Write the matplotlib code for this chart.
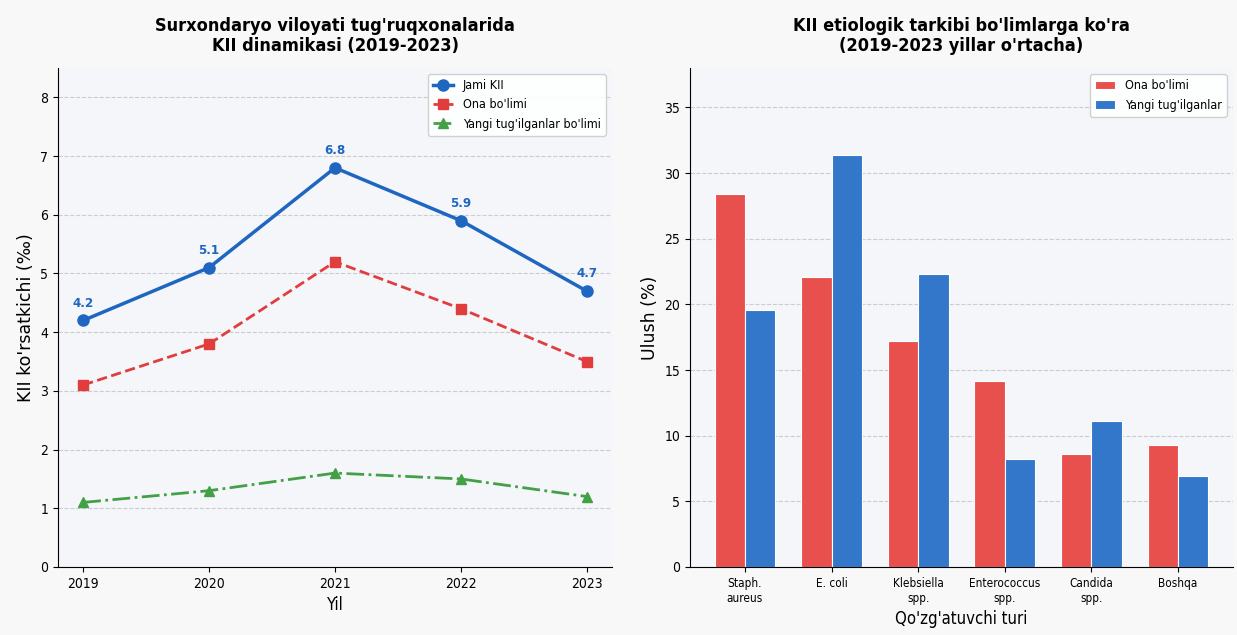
import matplotlib.pyplot as plt
import numpy as np

# chap grafik: KII dinamikasi
years = [2019, 2020, 2021, 2022, 2023]
jami_kii = [4.2, 5.1, 6.8, 5.9, 4.7]
ona_bolimi = [3.1, 3.8, 5.2, 4.4, 3.5]
yangi_tug = [1.1, 1.3, 1.6, 1.5, 1.2]

# o'ng grafik: etiologik tarkib
pathogens = ['Staph.\naureus', 'E. coli', 'Klebsiella\nspp.', 'Enterococcus\nspp.', 'Candida\nspp.', 'Boshqa']
ona_pct = [28.4, 22.1, 17.2, 14.2, 8.6, 9.3]
yangi_pct = [19.6, 31.4, 22.3, 8.2, 11.1, 6.9]

BLUE = '#1f66c1'
RED = '#e23d3d'
GREEN = '#43a047'
BAR_RED = '#e8504d'
BAR_BLUE = '#3277c9'
AX_BG = '#f4f6fa'

plt.rcParams['font.family'] = ['DejaVu Sans']
plt.rcParams['font.stretch'] = 'condensed'

fig = plt.figure(figsize=(12.37, 6.35), dpi=100, facecolor='#f8f8f8')
ax1 = fig.add_axes([58 / 1237, 68 / 635, 554 / 1237, 499 / 635])
ax2 = fig.add_axes([690 / 1237, 68 / 635, 543 / 1237, 499 / 635])

for ax in (ax1, ax2):
    ax.set_facecolor(AX_BG)
    ax.spines['top'].set_visible(False)
    ax.spines['right'].set_visible(False)
    ax.grid(axis='y', linestyle='--', alpha=0.6, color='#b0b0b0')
    ax.set_axisbelow(True)
    ax.tick_params(labelsize=10)

# --- chap ---
ax1.plot(years, jami_kii, '-o', color=BLUE, lw=2.5, ms=8, label='Jami KII')
ax1.plot(years, ona_bolimi, '--s', color=RED, lw=2, ms=7, label="Ona bo'limi")
ax1.plot(years, yangi_tug, '-.^', color=GREEN, lw=2, ms=7, label="Yangi tug'ilganlar bo'limi")
for x, y in zip(years, jami_kii):
    ax1.annotate(f'{y}', (x, y), textcoords='offset points', xytext=(0, 10),
                 ha='center', fontsize=9.5, fontweight='bold', color=BLUE)
ax1.set_ylim(0, 8.5)
ax1.set_xticks(years)
ax1.set_xlabel('Yil', fontsize=12)
ax1.set_ylabel("KII ko'rsatkichi (‰)", fontsize=12.5, fontstretch='normal')
ax1.set_title("Surxondaryo viloyati tug'ruqxonalarida\nKII dinamikasi (2019-2023)",
              fontsize=13, fontweight='bold', pad=12)
ax1.legend(loc='upper right', fontsize=9, framealpha=0.9, handlelength=1.6)

# --- o'ng ---
x = np.arange(len(pathogens))
w = 0.35
ax2.bar(x - w / 2, ona_pct, w, color=BAR_RED, edgecolor='white', lw=0.8, label="Ona bo'limi")
ax2.bar(x + w / 2, yangi_pct, w, color=BAR_BLUE, edgecolor='white', lw=0.8, label="Yangi tug'ilganlar")
ax2.set_xticks(x)
ax2.set_xticklabels(pathogens, fontsize=8.5)
ax2.set_ylim(0, 38)
ax2.set_xlabel("Qo'zg'atuvchi turi", fontsize=12)
ax2.set_ylabel('Ulush (%)', fontsize=12.5, fontstretch='normal')
ax2.set_title("KII etiologik tarkibi bo'limlarga ko'ra\n(2019-2023 yillar o'rtacha)",
              fontsize=13, fontweight='bold', pad=12)
ax2.legend(loc='upper right', fontsize=9, framealpha=0.9, handlelength=1.6)

fig.savefig('out.png', dpi=100, facecolor=fig.get_facecolor())
